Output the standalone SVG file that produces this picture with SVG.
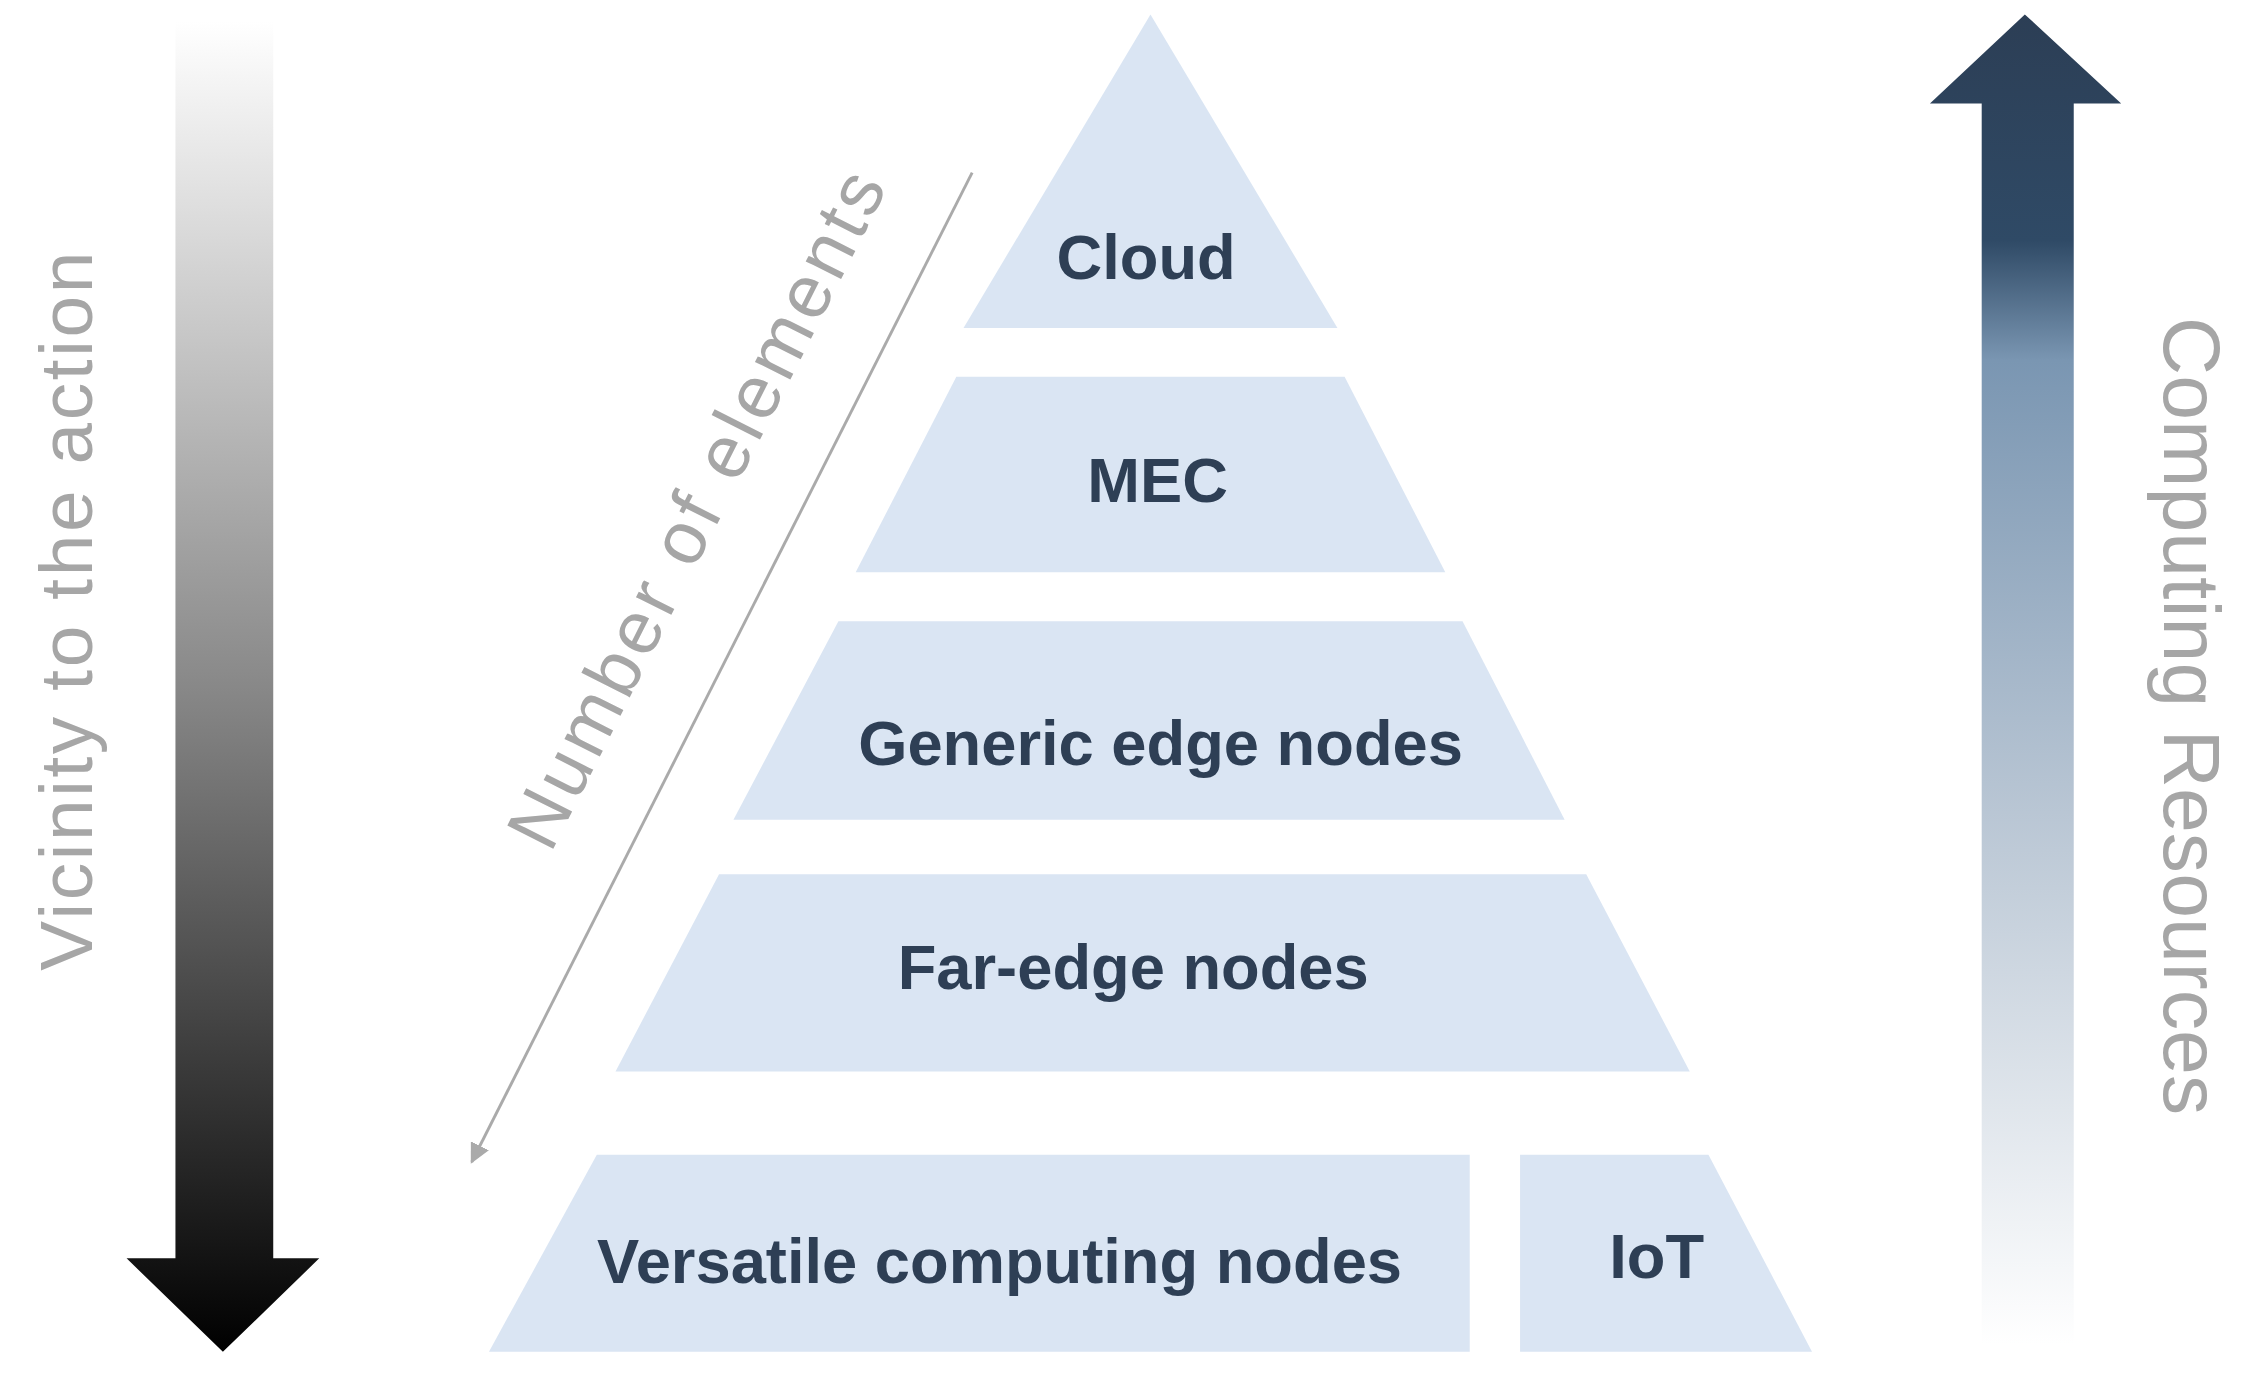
<svg xmlns="http://www.w3.org/2000/svg" width="2255" height="1384" viewBox="0 0 2255 1384">
<defs>
<linearGradient id="gl" x1="0" y1="0" x2="0" y2="1"><stop offset="0" stop-color="#fff"/><stop offset="0.5" stop-color="#888"/><stop offset="1" stop-color="#000"/></linearGradient>
<linearGradient id="gr" x1="0" y1="0" x2="0" y2="1"><stop offset="0" stop-color="#2c3e55"/><stop offset="0.17" stop-color="#2f4a66"/><stop offset="0.26" stop-color="#7a96b2"/><stop offset="0.6" stop-color="#b9c6d4"/><stop offset="1" stop-color="#fff"/></linearGradient>
<marker id="ah" viewBox="0 0 10 10" refX="9" refY="5" markerWidth="14" markerHeight="14" markerUnits="userSpaceOnUse" orient="auto"><path d="M0,0L10,5L0,10z" fill="#aaa"/></marker>
<style>
.t{fill:#dae5f3}
.l{font-family:"Liberation Sans",Arial,sans-serif;font-weight:bold;font-size:44px;fill:#2e3f55;text-anchor:middle}
.s{font-family:"Liberation Sans",Arial,sans-serif;fill:#a6a6a6;text-anchor:middle}
</style>
</defs>
<rect width="2255" height="1384" fill="#fff"/>
<g transform="scale(1.4381)">
<g id="vicinity">
<path d="M122,15H190V875H222L155,940L88,875H122Z" fill="url(#gl)"/>
<text class="s" font-size="52" transform="translate(64,425) rotate(-90)" textLength="500">Vicinity to the action</text>
</g>
<g id="computing">
<path d="M1378,935V72H1342L1408,10L1475,72H1442V935Z" fill="url(#gr)"/>
<text class="s" font-size="56" transform="translate(1505,498) rotate(90)" textLength="555">Computing Resources</text>
</g>
<g id="connectors">
<line x1="676" y1="120" x2="328" y2="808" stroke="#aaa" stroke-width="2" marker-end="url(#ah)"/>
<text class="s" font-size="52" transform="translate(500,362) rotate(-63.2)" textLength="520">Number of elements</text>
</g>
<g id="cloud"><path class="t" d="M800,10L930,228H670Z"/><text class="l" x="797" y="194">Cloud</text></g>
<g id="mec"><path class="t" d="M665,262H935L1005,398H595Z"/><text class="l" x="805" y="349">MEC</text></g>
<g id="generic"><path class="t" d="M583,432H1017L1088,570H510Z"/><text class="l" x="807" y="532">Generic edge nodes</text></g>
<g id="faredge"><path class="t" d="M500,608H1103L1175,745H428Z"/><text class="l" x="788" y="688">Far-edge nodes</text></g>
<g id="versatile"><path class="t" d="M415,803H1022V940H340Z"/><text class="l" x="695" y="892">Versatile computing nodes</text></g>
<g id="iot"><path class="t" d="M1057,803H1188L1260,940H1057Z"/><text class="l" x="1152" y="889">IoT</text></g>
</g>
</svg>
